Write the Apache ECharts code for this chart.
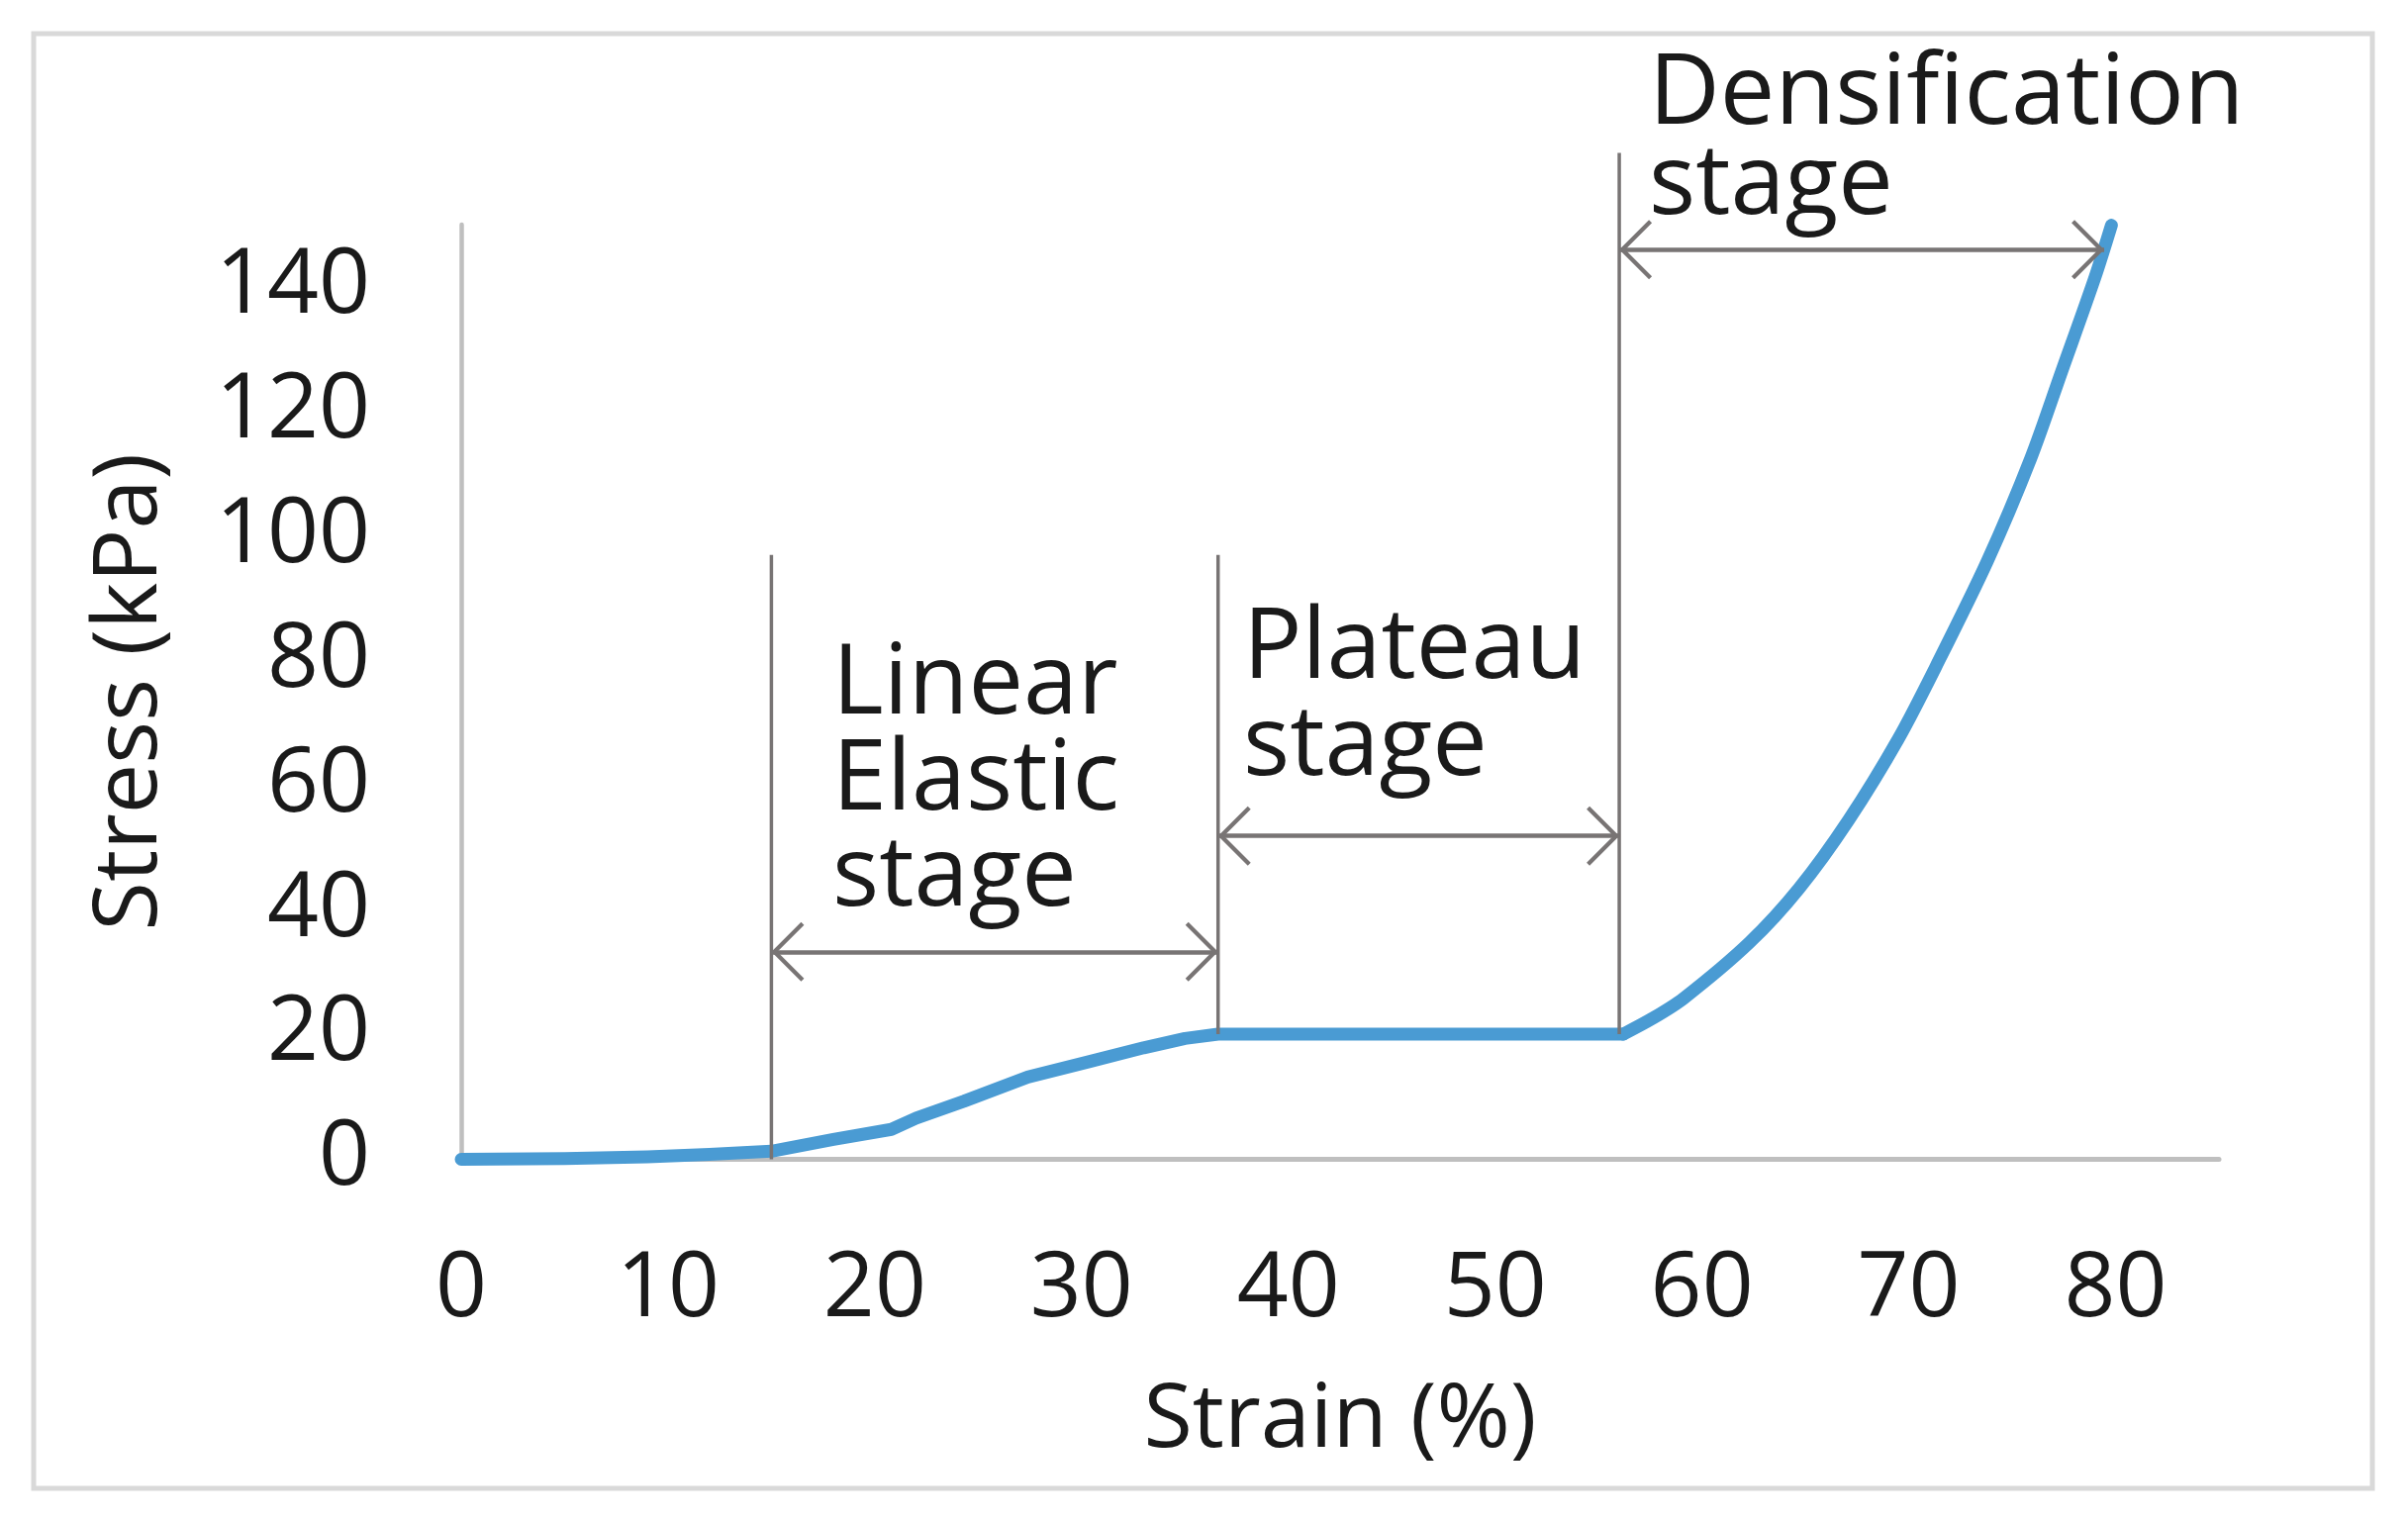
<!DOCTYPE html>
<html><head><meta charset="utf-8">
<script src="https://cdn.jsdelivr.net/npm/echarts@6/dist/echarts.min.js"></script>
<style>html,body{margin:0;padding:0;background:#fff}#c{width:2433px;height:1539px}</style>
</head><body><div id="c"></div>
<script>
// ---- data ----
const strain = [0, 5, 9, 12, 15, 18, 20.8, 22, 24.3, 27.4, 30.4, 33, 35, 36.6, 56.2, 57.6, 59.1, 62.3, 64.7, 67.1, 69.5, 71.3, 73.8, 75.9, 77.4, 79.0, 79.8];
const stress = [0, 0.1, 0.4, 0.8, 1.3, 3.2, 4.8, 6.6, 9.3, 13.2, 15.7, 17.9, 19.4, 20.1, 20.1, 22.6, 25.8, 34.8, 43.5, 54.5, 67.5, 79.0, 96.0, 112.5, 126.5, 141.5, 149.9];
const plateauEndIndex = 14; // last point of the plateau; densification stage is drawn smooth from here

// stage boundaries (strain) and the extent of the vertical marker lines (stress)
const boundaryX = [15, 36.6, 56.0];
const boundaryFrom = [0, 20.1, 20.1];
const boundaryTo = [97, 97, 161.5];

// double-headed stage arrows
const arrowFrom = [15, 36.6, 56.0];
const arrowTo = [36.6, 56.0, 79.45];
const arrowY = [33.3, 51.9, 146.0];

const stageLabels = ['Linear\nElastic\nstage', 'Plateau\nstage', 'Densification\nstage'];

const xName = 'Strain (%)';
const yName = 'Stress (kPa)';

// ---- chart ----
const FONT = 'Open Sans';
const GRAY = '#787474';
const BLUE = '#4a9bd3';
const chevron = 'path://M30,0L60,30L57,33L30,6L3,33L0,30Z';

const pts = strain.map((x, i) => [x, stress[i]]);
const blueStyle = { color: BLUE, width: 13, join: 'round', cap: 'round' };

const series = [{
  type: 'line',
  data: pts.slice(0, plateauEndIndex + 1),
  symbol: 'none', showSymbol: false,
  lineStyle: blueStyle,
  z: 2, silent: true, animation: false,
  markLine: {
    silent: true, animation: false,
    symbol: [chevron, chevron],
    symbolSize: [60, 33],
    symbolOffset: [[0, 16.5], [0, 16.5]],
    label: { show: false },
    emphasis: { disabled: true },
    lineStyle: { color: GRAY, width: 4.5, type: 'solid' },
    data: arrowFrom.map((x, i) => [{ coord: [x, arrowY[i]] }, { coord: [arrowTo[i], arrowY[i]] }])
  }
}, {
  type: 'line',
  data: pts.slice(plateauEndIndex),
  symbol: 'none', showSymbol: false,
  smooth: 0.3,
  lineStyle: blueStyle,
  z: 2, silent: true, animation: false
}];

boundaryX.forEach((x, i) => {
  series.push({
    type: 'line', clip: false, silent: true, animation: false, z: 3,
    symbol: 'none', showSymbol: false,
    data: [[x, boundaryFrom[i]], [x, boundaryTo[i]]],
    lineStyle: { color: GRAY, width: 3.5 }
  });
});

const chart = echarts.init(document.getElementById('c'), null, { renderer: 'canvas' });
chart.setOption({
  backgroundColor: '#ffffff',
  animation: false,
  textStyle: { fontFamily: FONT },
  grid: { left: 466, top: 227, right: 191, bottom: 367.5, containLabel: false },
  xAxis: {
    type: 'value', min: 0, max: 85, interval: 10,
    name: xName, nameLocation: 'middle', nameGap: 220,
    nameTextStyle: { fontFamily: FONT, fontSize: 90, color: '#1a1a1a', lineHeight: 90 },
    axisLine: { show: true, onZero: false, lineStyle: { color: '#bfbfbf', width: 5 } },
    axisTick: { show: false },
    splitLine: { show: false },
    axisLabel: { fontFamily: FONT, fontSize: 91, lineHeight: 91, color: '#1a1a1a', margin: 87, showMaxLabel: false }
  },
  yAxis: {
    type: 'value', min: 0, max: 150, interval: 20,
    name: yName, nameLocation: 'middle', nameGap: 289,
    nameTextStyle: { fontFamily: FONT, fontSize: 90, color: '#1a1a1a', lineHeight: 90 },
    axisLine: { show: true, onZero: false, lineStyle: { color: '#bfbfbf', width: 4.5 } },
    axisTick: { show: false },
    splitLine: { show: false },
    axisLabel: { fontFamily: FONT, fontSize: 91, lineHeight: 91, color: '#1a1a1a', margin: 92, showMaxLabel: false }
  },
  series: series,
  graphic: [
    { type: 'rect', shape: { x: 34, y: 34, width: 2363, height: 1470 }, style: { fill: 'none', stroke: '#d9d9d9', lineWidth: 5 }, silent: true, z: 0 },
    { type: 'text', x: 841, y: 644, style: { text: stageLabels[0], font: '99px "Open Sans"', lineHeight: 97, fill: '#1a1a1a', verticalAlign: 'top', align: 'left' }, z: 10 },
    { type: 'text', x: 1256, y: 608, style: { text: stageLabels[1], font: '99px "Open Sans"', lineHeight: 98, fill: '#1a1a1a', verticalAlign: 'top', align: 'left' }, z: 10 },
    { type: 'text', x: 1666, y: 51, style: { text: stageLabels[2], font: '99px "Open Sans"', lineHeight: 91, fill: '#1a1a1a', verticalAlign: 'top', align: 'left' }, z: 10 }
  ]
});
</script>
</body></html>
